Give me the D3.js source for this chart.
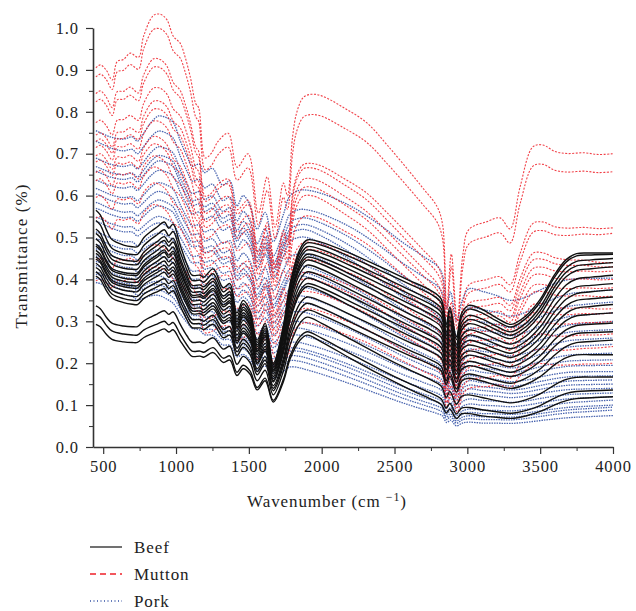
<!DOCTYPE html>
<html lang="en">
<head>
<meta charset="UTF-8">
<title>FTIR spectra - beef, mutton, pork</title>
<script src="https://d3js.org/d3.v7.min.js"></script>
<style>
    body { margin: 0; background: #fff; }
    svg { display: block; background: #fff; }
    svg text { font-family: "Liberation Serif", "DejaVu Serif", serif; fill: #222; }
    .axis line, .axis path { stroke: #333; }
</style>
</head>
<body>
<svg width="636" height="611"></svg>
<script>
    // --- template spectra (one representative curve per meat)
    const beefWn = [450, 480, 520, 560, 640, 700, 735, 780, 830, 870, 920, 950, 980, 1030, 1076, 1110, 1165, 1190, 1255, 1324, 1370, 1418, 1461, 1509, 1557, 1612, 1667, 1737, 1783, 1852, 1900, 2000, 2200, 2400, 2600, 2750, 2820, 2855, 2880, 2925, 2960, 3010, 3100, 3200, 3300, 3400, 3500, 3600, 3680, 3750, 3850, 4000];
    const beefShape = [0.565, 0.554, 0.52, 0.495, 0.482, 0.478, 0.478, 0.50, 0.515, 0.525, 0.537, 0.522, 0.532, 0.48, 0.435, 0.41, 0.41, 0.405, 0.425, 0.38, 0.39, 0.32, 0.35, 0.325, 0.255, 0.295, 0.2, 0.29, 0.39, 0.473, 0.494, 0.488, 0.46, 0.428, 0.395, 0.37, 0.35, 0.29, 0.33, 0.26, 0.315, 0.334, 0.325, 0.305, 0.29, 0.31, 0.35, 0.41, 0.446, 0.46, 0.462, 0.463];

    const muttonWn = [450, 480, 520, 562, 596, 640, 685, 742, 777, 845, 891, 937, 982, 1028, 1063, 1100, 1135, 1155, 1200, 1240, 1290, 1358, 1420, 1495, 1565, 1626, 1680, 1737, 1765, 1800, 1830, 1875, 1930, 2000, 2150, 2311, 2450, 2607, 2700, 2792, 2830, 2858, 2890, 2930, 2970, 3010, 3135, 3225, 3293, 3362, 3451, 3520, 3600, 3685, 3800, 3900, 4000];
    const muttonShape = [0.905, 0.912, 0.90, 0.876, 0.92, 0.925, 0.94, 0.93, 0.98, 1.03, 1.033, 1.02, 0.98, 0.964, 0.93, 0.88, 0.82, 0.81, 0.69, 0.70, 0.73, 0.749, 0.668, 0.70, 0.558, 0.645, 0.525, 0.63, 0.60, 0.74, 0.80, 0.835, 0.842, 0.838, 0.81, 0.773, 0.72, 0.655, 0.615, 0.573, 0.53, 0.33, 0.46, 0.30, 0.46, 0.518, 0.537, 0.546, 0.52, 0.62, 0.716, 0.72, 0.705, 0.70, 0.702, 0.698, 0.70];

    const porkWn = [450, 480, 550, 640, 700, 735, 770, 830, 880, 940, 980, 1030, 1080, 1110, 1160, 1195, 1250, 1320, 1370, 1418, 1461, 1509, 1557, 1612, 1667, 1737, 1783, 1850, 1900, 2000, 2200, 2400, 2550, 2700, 2800, 2830, 2858, 2885, 2925, 2965, 3010, 3100, 3200, 3300, 3400, 3500, 3600, 3700, 3800, 4000];
    const porkShape = [0.755, 0.75, 0.74, 0.735, 0.74, 0.73, 0.745, 0.775, 0.79, 0.785, 0.775, 0.73, 0.69, 0.67, 0.675, 0.655, 0.665, 0.625, 0.635, 0.575, 0.60, 0.575, 0.52, 0.56, 0.49, 0.555, 0.60, 0.613, 0.613, 0.605, 0.575, 0.53, 0.49, 0.455, 0.43, 0.41, 0.33, 0.37, 0.30, 0.35, 0.378, 0.372, 0.362, 0.35, 0.358, 0.375, 0.39, 0.40, 0.402, 0.403];

    // --- level of each sample at the anchor wavenumbers
    const anchorWn = [480, 1900, 3050, 4000];
    const beefLevels = [
        [0.554, 0.494, 0.334, 0.463], [0.53, 0.487, 0.325, 0.46], [0.51, 0.478, 0.31, 0.45],
        [0.50, 0.47, 0.30, 0.44], [0.487, 0.46, 0.29, 0.43], [0.475, 0.453, 0.275, 0.41],
        [0.47, 0.446, 0.263, 0.39], [0.46, 0.434, 0.25, 0.375], [0.453, 0.418, 0.239, 0.358],
        [0.445, 0.403, 0.225, 0.34], [0.44, 0.39, 0.215, 0.32], [0.43, 0.383, 0.20, 0.296],
        [0.42, 0.358, 0.19, 0.275], [0.41, 0.343, 0.17, 0.255], [0.40, 0.327, 0.16, 0.22],
        [0.33, 0.31, 0.12, 0.167], [0.31, 0.275, 0.09, 0.136], [0.287, 0.267, 0.075, 0.12]
    ];
    const muttonLevels = [
        [0.912, 0.838, 0.525, 0.70], [0.89, 0.79, 0.49, 0.657], [0.85, 0.675, 0.39, 0.523],
        [0.83, 0.665, 0.37, 0.51], [0.78, 0.64, 0.345, 0.44], [0.75, 0.62, 0.33, 0.43],
        [0.735, 0.60, 0.31, 0.42], [0.72, 0.55, 0.30, 0.40], [0.70, 0.487, 0.28, 0.38],
        [0.685, 0.47, 0.27, 0.36], [0.66, 0.446, 0.25, 0.33], [0.64, 0.415, 0.23, 0.32],
        [0.60, 0.40, 0.21, 0.30], [0.55, 0.37, 0.19, 0.27], [0.45, 0.33, 0.16, 0.24],
        [0.40, 0.296, 0.14, 0.20]
    ];
    const porkLevels = [
        [0.75, 0.613, 0.375, 0.403], [0.725, 0.566, 0.33, 0.375], [0.685, 0.546, 0.30, 0.346],
        [0.665, 0.53, 0.28, 0.32], [0.654, 0.518, 0.26, 0.30], [0.633, 0.50, 0.25, 0.28],
        [0.613, 0.46, 0.23, 0.26], [0.60, 0.43, 0.215, 0.245], [0.58, 0.415, 0.20, 0.224],
        [0.566, 0.406, 0.19, 0.208], [0.545, 0.38, 0.18, 0.195], [0.535, 0.358, 0.167, 0.18],
        [0.51, 0.343, 0.155, 0.17], [0.494, 0.32, 0.145, 0.16], [0.48, 0.296, 0.136, 0.15],
        [0.47, 0.28, 0.125, 0.14], [0.453, 0.263, 0.112, 0.129], [0.44, 0.245, 0.10, 0.12],
        [0.43, 0.231, 0.088, 0.112], [0.415, 0.224, 0.08, 0.10], [0.41, 0.212, 0.072, 0.095],
        [0.40, 0.20, 0.065, 0.088], [0.39, 0.184, 0.057, 0.075]
    ];

    const xTicks = [500, 1000, 1500, 2000, 2500, 3000, 3500, 4000];
    const yTicks = [0, 0.1, 0.2, 0.3, 0.4, 0.5, 0.6, 0.7, 0.8, 0.9, 1.0];
    const legendNames = ["Beef", "Mutton", "Pork"];

    const serif = '"Liberation Serif", "DejaVu Serif", serif';
    const svg = d3.select("svg").attr("font-family", serif);

    const x = d3.scaleLinear().domain([430, 4000]).range([93, 613]);
    const y = d3.scaleLinear().domain([0, 1]).range([447, 28]);

    // build one sample: template shape times a ratio that moves between anchors
    function buildCurves(wn, shape, levels) {
        const tpl = d3.scaleLinear().domain(wn).range(shape);
        return levels.map(lv => {
            const ratio = d3.scaleLinear().domain(anchorWn)
                .range(lv.map((v, k) => v / tpl(anchorWn[k]))).clamp(true);
            return wn.map((w, i) => [w, shape[i] * ratio(w)]);
        });
    }

    const line = d3.line()
        .x(d => x(d[0]))
        .y(d => y(d[1]))
        .curve(d3.curveCatmullRom.alpha(0.5));

    const styles = {
        Beef: { color: "#111", width: 1.4, dash: null, legendDash: null, opacity: 1 },
        Mutton: { color: "#ee2129", width: 1.1, dash: "2,1.5", legendDash: "6,4", opacity: 0.85 },
        Pork: { color: "#3553a6", width: 1.3, dash: "1.5,1", legendDash: "1,2.5", opacity: 0.9 }
    };

    const groups = [
        ["Pork", buildCurves(porkWn, porkShape, porkLevels)],
        ["Mutton", buildCurves(muttonWn, muttonShape, muttonLevels)],
        ["Beef", buildCurves(beefWn, beefShape, beefLevels)]
    ];

    groups.forEach(([name, curves]) => {
        const st = styles[name];
        svg.append("g").attr("class", "series-" + name)
            .selectAll("path").data(curves).enter().append("path")
            .attr("d", line)
            .attr("fill", "none")
            .attr("stroke", st.color)
            .attr("stroke-opacity", st.opacity)
            .attr("stroke-width", st.width)
            .attr("stroke-dasharray", st.dash);
    });

    // axes
    function styleAxis(g) {
        g.attr("font-family", serif);
        g.select(".domain").attr("stroke-width", 1.6);
        g.selectAll("line").attr("stroke-width", 1.2);
        g.selectAll("text").attr("font-size", 16.5).attr("letter-spacing", 0.9).attr("fill", "#222");
    }

    const yMinor = d3.range(0.05, 1, 0.1);
    svg.append("g").attr("class", "axis")
        .attr("transform", "translate(93,0)")
        .call(d3.axisLeft(y).tickValues(yMinor).tickSize(4).tickSizeOuter(0).tickFormat(""))
        .call(g => g.select(".domain").remove());
    svg.append("g").attr("class", "axis")
        .attr("transform", "translate(93,0)")
        .call(d3.axisLeft(y).tickValues(yTicks).tickSize(7).tickSizeOuter(0).tickPadding(7).tickFormat(d3.format(".1f")))
        .call(styleAxis);

    const xMinor = d3.range(750, 4000, 500);
    svg.append("g").attr("class", "axis")
        .attr("transform", "translate(0,447)")
        .call(d3.axisBottom(x).tickValues(xMinor).tickSize(4).tickSizeOuter(0).tickFormat(""))
        .call(g => g.select(".domain").remove());
    svg.append("g").attr("class", "axis")
        .attr("transform", "translate(0,447)")
        .call(d3.axisBottom(x).tickValues(xTicks).tickSize(7).tickSizeOuter(0).tickPadding(6).tickFormat(d3.format("d")))
        .call(styleAxis);

    // axis titles
    svg.append("text")
        .attr("transform", "translate(27,256) rotate(-90)")
        .attr("text-anchor", "middle")
        .attr("font-size", 17)
        .attr("letter-spacing", 1.1)
        .text("Transmittance (%)");

    const xt = svg.append("text")
        .attr("x", 327).attr("y", 507)
        .attr("text-anchor", "middle")
        .attr("font-size", 17)
        .attr("letter-spacing", 0.9);
    xt.append("tspan").text("Wavenumber (cm ");
    xt.append("tspan").attr("dy", -6).attr("font-size", 12).text("\u22121");
    xt.append("tspan").attr("dy", 6).text(")");

    // legend
    const leg = svg.append("g").selectAll("g").data(legendNames).enter().append("g")
        .attr("transform", (d, i) => `translate(90,${547 + i * 27})`);
    leg.append("line")
        .attr("x1", 0).attr("x2", 32).attr("y1", 0).attr("y2", 0)
        .attr("stroke", d => styles[d].color)
        .attr("stroke-width", d => d === "Beef" ? 1.2 : 1.4)
        .attr("stroke-dasharray", d => styles[d].legendDash);
    leg.append("text")
        .attr("x", 44).attr("y", 6)
        .attr("font-size", 17)
        .attr("letter-spacing", 0.9)
        .text(d => d);
</script>
</body>
</html>
